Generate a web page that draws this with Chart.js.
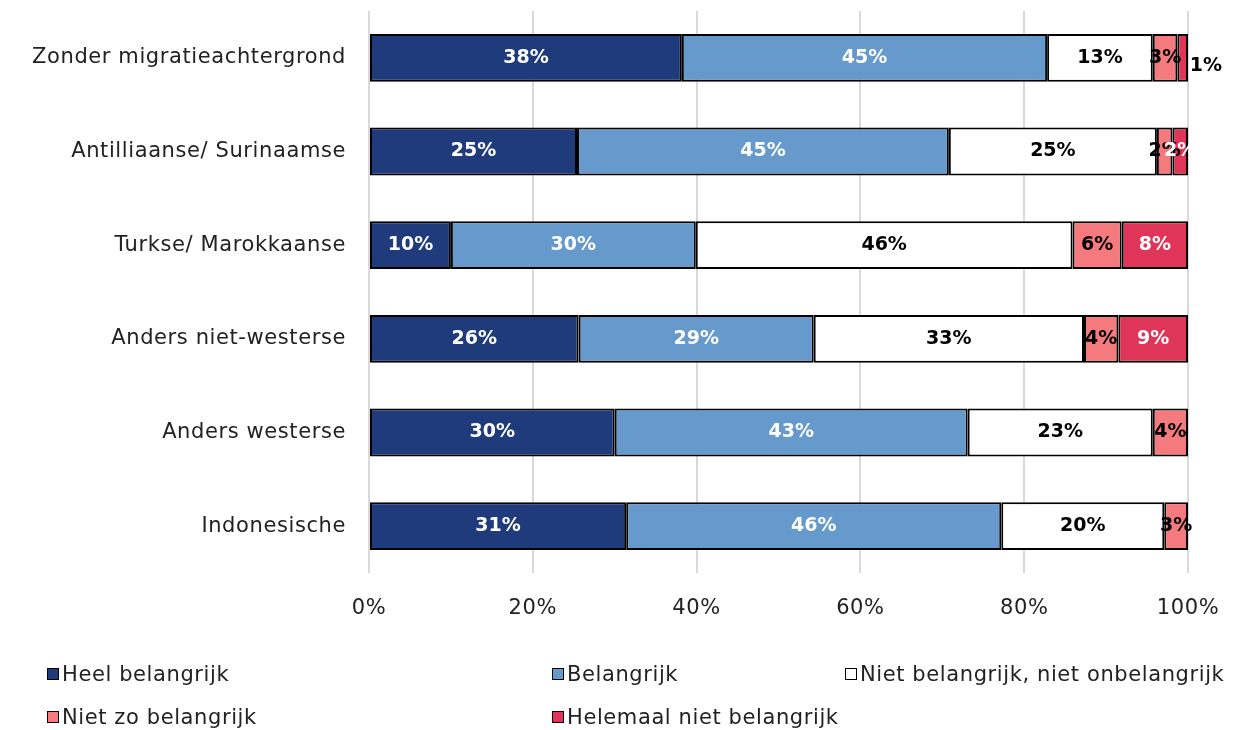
<!DOCTYPE html>
<html>
<head>
<meta charset="utf-8">
<script src="https://cdn.jsdelivr.net/npm/chart.js@4/dist/chart.umd.min.js"></script>
<style>
html,body{margin:0;padding:0;background:#fff;}
#wrap{position:relative;width:1241px;height:730px;}
canvas{position:absolute;left:0;top:0;}
.leg{position:absolute;font-family:"DejaVu Sans",sans-serif;font-size:21px;letter-spacing:0.6px;color:#222;display:flex;align-items:center;white-space:nowrap;}
.leg span.sw{display:inline-block;width:10px;height:10px;border:1.5px solid #000;margin-right:3px;}
</style>
</head>
<body>
<div id="wrap"><canvas id="c" width="1241" height="730"></canvas></div>
<script>
const categories = ["Zonder migratieachtergrond","Antilliaanse/ Surinaamse","Turkse/ Marokkaanse","Anders niet-westerse","Anders westerse","Indonesische"];
const seriesNames = ["Heel belangrijk","Belangrijk","Niet belangrijk, niet onbelangrijk","Niet zo belangrijk","Helemaal niet belangrijk"];
const heelBelangrijk = [38.2, 25.4, 10.0, 25.6, 30.0, 31.4];
const belangrijk = [44.6, 45.4, 29.9, 28.7, 43.1, 45.8];
const neutraal = [12.9, 25.4, 46.0, 33.0, 22.6, 19.9];
const nietZo = [3.0, 1.9, 6.0, 4.2, 4.3, 2.9];
const helemaalNiet = [1.3, 1.9, 8.1, 8.5, 0, 0];
const xTicks = [0,20,40,60,80,100];

const colors = ["#1F3B7B","#6699CC","#FFFFFF","#F47A7E","#DE3558"];
const labelColors = ["#FFFFFF","#FFFFFF","#000000","#000000","#FFFFFF"];
const values = [heelBelangrijk, belangrijk, neutraal, nietZo, helemaalNiet];
const FONT = '"DejaVu Sans", sans-serif';

const spacingPlugin = {
  id:'spacing',
  beforeDraw(chart){ chart.ctx.letterSpacing = '0.6px'; }
};

const labelPlugin = {
  id:'segLabels',
  afterDatasetsDraw(chart){
    const ctx = chart.ctx;
    ctx.save();
    ctx.letterSpacing = '0px';
    ctx.font = 'bold 19px ' + FONT;
    ctx.textAlign='center';
    ctx.textBaseline='middle';
    chart.data.datasets.forEach((ds,di)=>{
      const meta = chart.getDatasetMeta(di);
      meta.data.forEach((bar,i)=>{
        const v = ds.data[i];
        if(!v) return;
        const txt = Math.round(v)+'%';
        let x = (bar.x + bar.base)/2, y = bar.y;
        let col = labelColors[di];
        if(di===4 && i===0){ x = bar.x + 18; y = bar.y + 8; col = '#000'; }
        ctx.fillStyle = col;
        ctx.fillText(txt, x, y);
      });
    });
    ctx.restore();
  }
};

new Chart(document.getElementById('c'), {
  type:'bar',
  data:{
    labels:categories,
    datasets: seriesNames.map((n,i)=>({
      label:n, data:values[i], backgroundColor:colors[i],
      borderColor:'#000', borderWidth:2, borderSkipped:false,
      barPercentage:0.51, categoryPercentage:1
    }))
  },
  options:{
    indexAxis:'y', responsive:false, animation:false,
    layout:{padding:{top:11,right:53,bottom:107,left:0}},
    plugins:{legend:{display:false},tooltip:{enabled:false}},
    scales:{
      x:{
        stacked:true, min:0, max:100,
        afterBuildTicks(ax){ ax.ticks = xTicks.map(v=>({value:v})); },
        afterFit(ax){ ax.height = 50; ax.paddingLeft = 0; ax.paddingRight = 0; },
        ticks:{callback:v=>v+'%', color:'#222', font:{family:FONT,size:21}, padding:23},
        grid:{color:'#D9D9D9', lineWidth:2, drawTicks:false},
        border:{display:false}
      },
      y:{
        stacked:true,
        afterFit(ax){ ax.width = 369; ax.paddingTop = 0; ax.paddingBottom = 0; },
        ticks:{color:'#222', font:{family:FONT,size:21}, padding:23},
        grid:{display:false, drawTicks:false},
        border:{display:false}
      }
    }
  },
  plugins:[spacingPlugin, labelPlugin]
});

const legPos = [[47,674],[552,674],[845,674],[47,717],[552,717]];
const wrap = document.getElementById('wrap');
seriesNames.forEach((n,i)=>{
  const d = document.createElement('div');
  d.className='leg';
  d.style.left = legPos[i][0]+'px';
  d.style.top = (legPos[i][1]-12)+'px';
  d.innerHTML = '<span class="sw" style="background:'+colors[i]+'"></span>'+n;
  wrap.appendChild(d);
});
</script>
</body>
</html>
